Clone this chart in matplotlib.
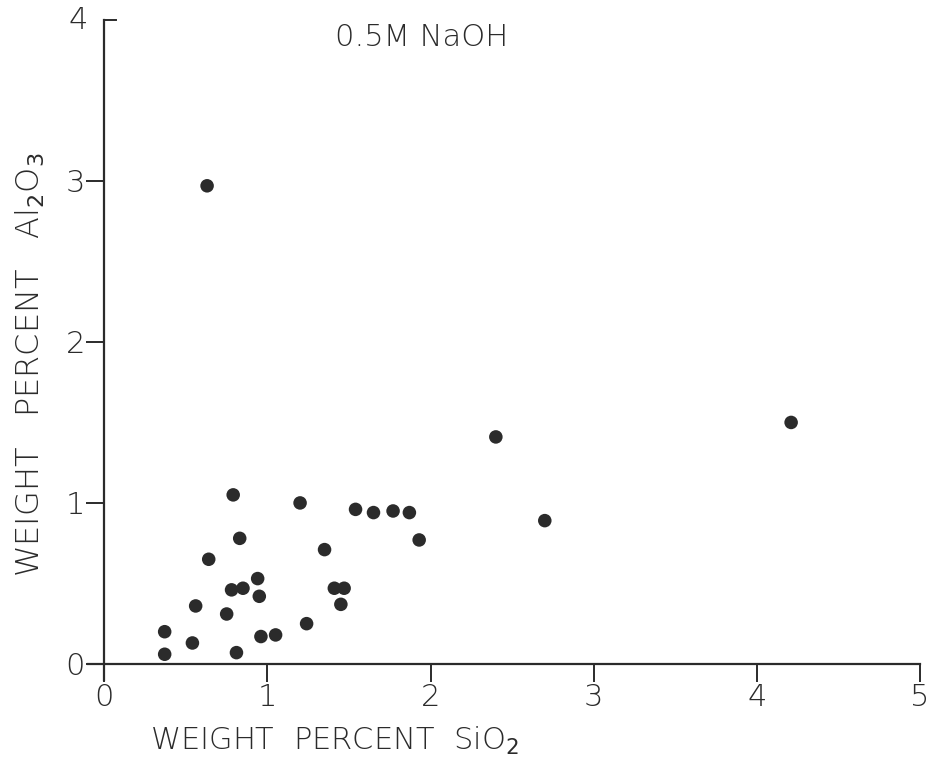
import matplotlib
matplotlib.use("Agg")
import matplotlib.pyplot as plt

# weight percent SiO2 / Al2O3 in 0.5M NaOH extracts
sio2 = [0.63, 0.79, 1.20, 1.54, 1.65, 1.77, 1.87, 1.93, 0.83, 1.35, 0.64,
        0.94, 0.78, 0.85, 0.95, 1.41, 1.47, 1.45, 0.56, 0.75, 1.24, 0.37,
        0.54, 0.96, 1.05, 0.37, 0.81, 2.40, 2.70, 4.21]
al2o3 = [2.97, 1.05, 1.00, 0.96, 0.94, 0.95, 0.94, 0.77, 0.78, 0.71, 0.65,
         0.53, 0.46, 0.47, 0.42, 0.47, 0.47, 0.37, 0.36, 0.31, 0.25, 0.20,
         0.13, 0.17, 0.18, 0.06, 0.07, 1.41, 0.89, 1.50]

xticks = [0, 1, 2, 3, 4, 5]
yticks = [0, 1, 2, 3]

plt.rcParams['font.family'] = ['DejaVu Sans']
ink = '#2b2b2b'

fig = plt.figure(figsize=(9.44, 7.64), dpi=100)
ax = fig.add_axes([88/944, 1-680/764, 832/944, 660/764])

ax.scatter(sio2, al2o3, s=95, c=ink, edgecolors='none', zorder=3, clip_on=False)

ax.set_xlim(-0.1, 5)
ax.set_ylim(-0.1, 4)
for s in ['top', 'right']:
    ax.spines[s].set_visible(False)
ax.spines['left'].set_position(('data', 0))
ax.spines['bottom'].set_position(('data', 0))
for s in ['left', 'bottom']:
    ax.spines[s].set_linewidth(1.6)
    ax.spines[s].set_color(ink)

ax.set_xticks(xticks)
ax.set_yticks(yticks)
ax.set_xticklabels([str(t) for t in xticks])
ax.set_yticklabels([str(t) for t in yticks])
ax.tick_params(axis='x', direction='out', length=13, width=1.4, color=ink,
               labelsize=22, pad=1, labelcolor=ink)
ax.tick_params(axis='y', direction='out', length=13, width=1.4, color=ink,
               labelsize=22, pad=1, labelcolor=ink)
for lab in ax.get_xticklabels() + ax.get_yticklabels():
    lab.set_fontweight('light')

# top tick at 4 pointing inward
ax.plot([0, 0.07], [4, 4], color=ink, lw=1.4, clip_on=False)
ax.text(-0.1, 4, '4', ha='right', va='center', fontsize=22, color=ink,
        fontweight='light')

ax.text(0.297, 0.973, '0.5M NaOH', transform=ax.transAxes, fontsize=22,
        color=ink, ha='left', va='center', fontweight='light')

fig.text(150/944, 1-741/764, 'WEIGHT  PERCENT  SiO$_2$', fontsize=22,
         color=ink, ha='left', va='center', fontweight='light')
fig.text(30/944, 1-365/764, 'WEIGHT   PERCENT   Al$_2$O$_3$', fontsize=23,
         color=ink, ha='center', va='center', rotation=90, fontweight='light')

fig.savefig('out.png', dpi=100, facecolor='white')
